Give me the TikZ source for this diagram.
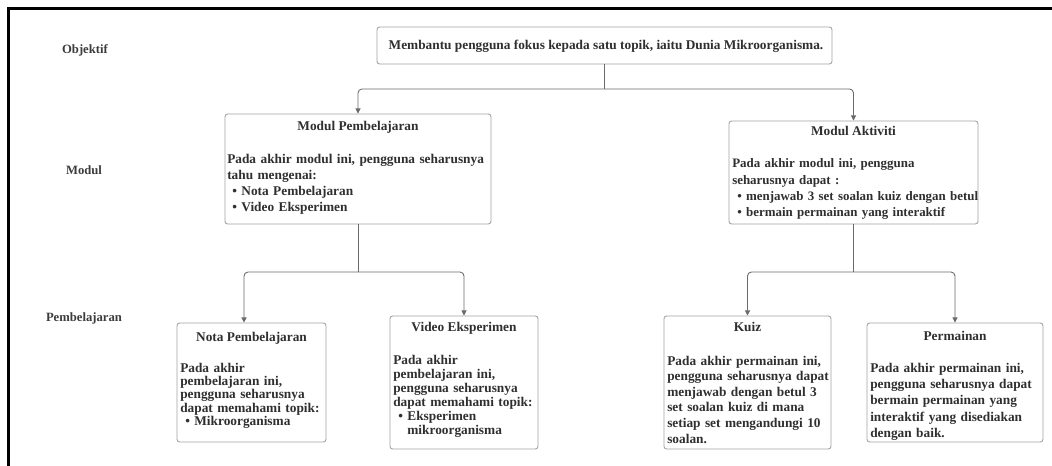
\documentclass[tikz,border=0pt]{standalone}
\usepackage{fontspec}
\setmainfont{Liberation Serif}
\usetikzlibrary{arrows.meta,fit,calc}
\definecolor{txt}{HTML}{2F2F2F}
\definecolor{lbl}{HTML}{3C3C3C}
\definecolor{bord}{HTML}{A3A3A3}
\definecolor{conn}{HTML}{6A6A6A}
\tikzset{
  boxnode/.style={draw=bord, line width=0.7pt, rounded corners=2pt, inner sep=0pt},
  conline/.style={draw=conn, line width=0.65pt, rounded corners=3pt, -{Triangle[length=3.8pt,width=3.8pt]}},
  plainline/.style={draw=conn, line width=0.65pt, rounded corners=3pt},
  ttl/.style={inner sep=0pt, anchor=base, text=txt, font=\fontsize{10}{12}\selectfont\bfseries},
  body/.style={inner sep=0pt, anchor=base west, text=txt, align=left, text width=260pt, font=\fontsize{10}{#1}\selectfont\bfseries},
  lab/.style={inner sep=0pt, anchor=base, text=lbl, font=\fontsize{9.5}{11}\selectfont\bfseries}
}
\newcommand{\bul}{\hspace*{3.75pt}\textbullet\ }
\newcommand{\bulcont}{\hspace*{3.75pt}\phantom{\textbullet\ }}
\begin{document}
\begin{tikzpicture}[x=0.75pt,y=-0.75pt]
\useasboundingbox (0,0) rectangle (1052,466);
\fill[white] (0,0) rectangle (1052,466);
% frame
\draw[black, line width=1.6pt] (8.5,466) -- (8.5,8.5) -- (1052,8.5);

% labels
\node[lab] (lobj) at (85,54) {Objektif};
\node[lab] (lmod) at (84,175) {Modul};
\node[lab] (lpem) at (84,322) {Pembelajaran};

% boxes
\node[boxnode, fit={(377,27) (832,64)}] (top) {};
\node[boxnode, fit={(225,114) (491,224)}] (mp) {};
\node[boxnode, fit={(729,121) (978,224)}] (ma) {};
\node[boxnode, fit={(177,323) (326,442)}] (nota) {};
\node[boxnode, fit={(390,316) (538,449)}] (video) {};
\node[boxnode, fit={(664,316) (831,449)}] (kuiz) {};
\node[boxnode, fit={(867,323) (1043,442)}] (perm) {};

% texts
\node[ttl] (ttop) at (606,49.5) {Membantu pengguna fokus kepada satu topik, iaitu Dunia Mikroorganisma.};

\node[ttl] (tmp) at (358,131) {Modul Pembelajaran};
\node[body=12pt] (bmp) at (227,163.5) {Pada akhir modul ini, pengguna seharusnya\\tahu mengenai:\\\bul Nota Pembelajaran\\\bul Video Eksperimen};

\node[ttl] (tma) at (853.5,136) {Modul Aktiviti};
\node[body=12.2pt, font=\fontsize{9.7}{12.2pt}\selectfont\bfseries] (bma) at (732,168) {Pada akhir modul ini, pengguna\\seharusnya dapat :\\\bul menjawab 3 set soalan kuiz dengan betul\\\bul bermain permainan yang interaktif};

\node[ttl] (tnota) at (251.5,341) {Nota Pembelajaran};
\node[body=10.1pt] (bnota) at (180,372) {Pada akhir\\pembelajaran ini,\\pengguna seharusnya\\dapat memahami topik:\\\bul Mikroorganisma};

\node[ttl] (tvideo) at (464,331) {Video Eksperimen};
\node[body=10.5pt] (bvideo) at (393,364) {Pada akhir\\pembelajaran ini,\\pengguna seharusnya\\dapat memahami topik:\\\bul Eksperimen\\\bulcont mikroorganisma};

\node[ttl] (tkuiz) at (747.5,332) {Kuiz};
\node[body=11.7pt] (bkuiz) at (667,365) {Pada akhir permainan ini,\\pengguna seharusnya dapat\\menjawab dengan betul 3\\set soalan kuiz di mana\\setiap set mengandungi 10\\soalan.};

\node[ttl] (tperm) at (955,340) {Permainan};
\node[body=12pt] (bperm) at (870,373) {Pada akhir permainan ini,\\pengguna seharusnya dapat\\bermain permainan yang\\interaktif yang disediakan\\dengan baik.};

% connectors
\coordinate (j1) at (604.5,89);
\coordinate (j2) at (358,272);
\coordinate (j3) at (853.5,272);
\draw[plainline] (top.south) -- (j1);
\draw[conline] (j1) -| (mp.north);
\draw[conline] (j1) -| (ma.north);
\draw[plainline] (mp.south) -- (j2);
\draw[conline] (j2) -| ([xshift=-5.6pt]nota.north);
\draw[conline] (j2) -| (video.north);
\draw[plainline] (ma.south) -- (j3);
\draw[conline] (j3) -| (kuiz.north);
\draw[conline] (j3) -| (perm.north);
\end{tikzpicture}
\end{document}
